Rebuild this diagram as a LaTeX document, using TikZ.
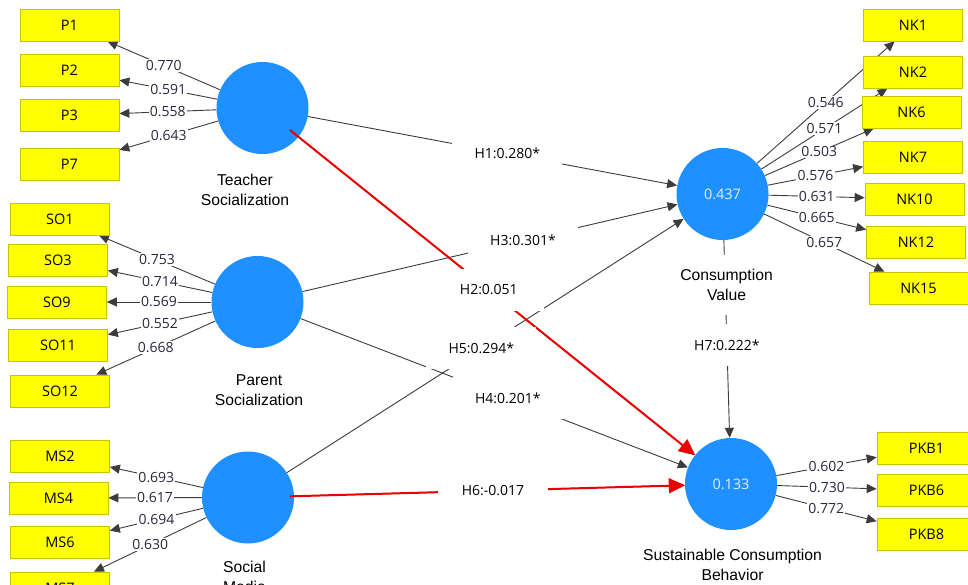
\documentclass[tikz,border=0pt]{standalone}
\usepackage{fontspec}
\usetikzlibrary{arrows.meta,calc}
\newfontfamily\osans{Open Sans}
\newfontfamily\lsans{Liberation Sans}
\definecolor{cblue}{RGB}{30,144,255}
\definecolor{boxedge}{RGB}{196,196,0}
\definecolor{boxfill}{RGB}{255,255,0}
\definecolor{linec}{RGB}{60,60,60}
\definecolor{labc}{RGB}{40,40,64}
\definecolor{numc}{RGB}{225,238,255}
\definecolor{redc}{RGB}{235,0,0}
\pgfdeclarelayer{bgwhite}
\pgfdeclarelayer{edges}
\pgfdeclarelayer{top}
\pgfsetlayers{bgwhite,edges,main,top}
\begin{document}
\begin{tikzpicture}[x=1pt,y=-1pt,
  ind/.style={draw=boxedge, line width=0.7pt, fill=boxfill, minimum width=99pt, minimum height=32pt, inner sep=0pt, font=\osans\fontsize{14.5}{16}\selectfont, text=black},
  lv/.style={circle, fill=cblue, minimum size=92pt, inner sep=0pt, font=\osans\fontsize{14.5}{16}\selectfont, text=numc},
  lvname/.style={fill=white, align=center, minimum width=100pt, minimum height=60pt, inner sep=0pt, font=\lsans\fontsize{15.7}{20}\selectfont, text=black},
  load/.style={draw=linec, line width=0.9pt, -{Triangle[length=10pt,width=9pt]}},
  lab/.style={fill=white, inner sep=1.2pt, font=\osans\fontsize{14}{16}\selectfont, text=labc},
  hpath/.style={draw=linec, line width=0.9pt, -{Triangle[length=10pt,width=9pt]}},
  hlab/.style={fill=white, minimum width=110pt, minimum height=42pt, inner sep=0pt, font=\osans\fontsize{14}{16}\selectfont, text=black},
  redpath/.style={draw=redc, line width=2pt, -{Triangle[length=16pt,width=15pt]}}
]
\useasboundingbox (0,0) rectangle (968,585);
\begin{pgfonlayer}{bgwhite}
\fill[white] (0,0) rectangle (968,585);
\end{pgfonlayer}

% latent variables
\node[lv] (TS) at (262.5,108) {};
\node[lv] (PS) at (257.5,302) {};
\node[lv] (SM) at (248,497.5) {};
\node[lv] (CV) at (722.5,194) {0.437};
\node[lv] (SCB) at (731,484) {0.133};

% indicators
\node[ind] (P1) at (69.5,25) {P1};
\node[ind] (P2) at (69.5,70.5) {P2};
\node[ind] (P3) at (69.5,115.5) {P3};
\node[ind] (P7) at (69.5,164.5) {P7};
\node[ind] (SO1) at (60,219) {SO1};
\node[ind] (SO3) at (58,260) {SO3};
\node[ind] (SO9) at (57,302) {SO9};
\node[ind] (SO11) at (58,345.5) {SO11};
\node[ind] (SO12) at (60,391) {SO12};
\node[ind] (MS2) at (60,456) {MS2};
\node[ind] (MS4) at (58.5,498) {MS4};
\node[ind] (MS6) at (60,542.5) {MS6};
\node[ind] (MS7) at (60,588) {MS7};
\node[ind] (NK1) at (913,25) {NK1};
\node[ind] (NK2) at (913,72) {NK2};
\node[ind] (NK6) at (911.5,112) {NK6};
\node[ind] (NK7) at (913,157) {NK7};
\node[ind] (NK10) at (914.5,199) {NK10};
\node[ind] (NK12) at (916,242) {NK12};
\node[ind] (NK15) at (918.5,288) {NK15};
\node[ind] (PKB1) at (926.5,448) {PKB1};
\node[ind] (PKB6) at (926.5,490.5) {PKB6};
\node[ind] (PKB8) at (926.5,534) {PKB8};

% construct names
\node[lvname] (TSn) at (245,190) {Teacher\\Socialization};
\node[lvname] (PSn) at (259,390) {Parent\\Socialization};
\node[lvname] (SMn) at (244.5,577) {Social\\Media};
\node[lvname] (CVn) at (726.5,284.5) {Consumption\\Value};
\node[lvname] (SCBn) at (732.5,565) {Sustainable Consumption\\Behavior};

\begin{pgfonlayer}{edges}
% outer loadings
\draw[load] (TS) -- node[lab]{0.770} (P1);
\draw[load] (TS) -- node[lab]{0.591} (P2);
\draw[load] (TS) -- node[lab]{0.558} (P3);
\draw[load] (TS) -- node[lab]{0.643} (P7);
\draw[load] (PS) -- node[lab]{0.753} (SO1);
\draw[load] (PS) -- node[lab]{0.714} (SO3);
\draw[load] (PS) -- node[lab]{0.569} (SO9);
\draw[load] (PS) -- node[lab]{0.552} (SO11);
\draw[load] (PS) -- node[lab]{0.668} (SO12);
\draw[load] (SM) -- node[lab]{0.693} (MS2);
\draw[load] (SM) -- node[lab]{0.617} (MS4);
\draw[load] (SM) -- node[lab]{0.694} (MS6);
\draw[load] (SM) -- node[lab]{0.630} (MS7);
\draw[load] (CV) -- node[lab]{0.546} (NK1);
\draw[load] (CV) -- node[lab]{0.571} (NK2);
\draw[load] (CV) -- node[lab]{0.503} (NK6);
\draw[load] (CV) -- node[lab]{0.576} (NK7);
\draw[load] (CV) -- node[lab]{0.631} (NK10);
\draw[load] (CV) -- node[lab]{0.665} (NK12);
\draw[load] (CV) -- node[lab]{0.657} (NK15);
\draw[load] (SCB) -- node[lab]{0.602} (PKB1);
\draw[load] (SCB) -- node[lab]{0.730} (PKB6);
\draw[load] (SCB) -- node[lab]{0.772} (PKB8);
% structural paths
\draw[hpath] (TS) -- (CV);
\draw[hpath] (PS) -- (CV);
\draw[hpath] (SM) -- (CV);
\draw[hpath] (TS) -- (SCB);
\draw[hpath] (PS) -- (SCB);
\draw[hpath] (SM) -- (SCB);
\draw[hpath] (CV) -- (SCB);
\end{pgfonlayer}

\begin{pgfonlayer}{top}
\coordinate (r2) at ($(TS)!35pt!(SCB)$);
\coordinate (r6) at ($(SM)!42pt!(SCB)$);
\draw[redpath] (r2) -- (SCB);
\draw[redpath] (r6) -- (SCB);
\path (TS) -- node[hlab,pos=0.54]{H1:0.280*} (CV);
\path (PS) -- node[hlab,pos=0.588]{H3:0.301*} (CV);
\path (TS) -- node[hlab,pos=0.48]{H2:0.051} (SCB);
\path (SM) -- node[hlab,pos=0.49]{H5:0.294*} (CV);
\path (PS) -- node[hlab,pos=0.535]{H4:0.201*} (SCB);
\path (SM) -- node[hlab,pos=0.509]{H6:-0.017} (SCB);
\path (CV) -- node[hlab,pos=0.53]{H7:0.222*} (SCB);
\end{pgfonlayer}
\end{tikzpicture}
\end{document}
